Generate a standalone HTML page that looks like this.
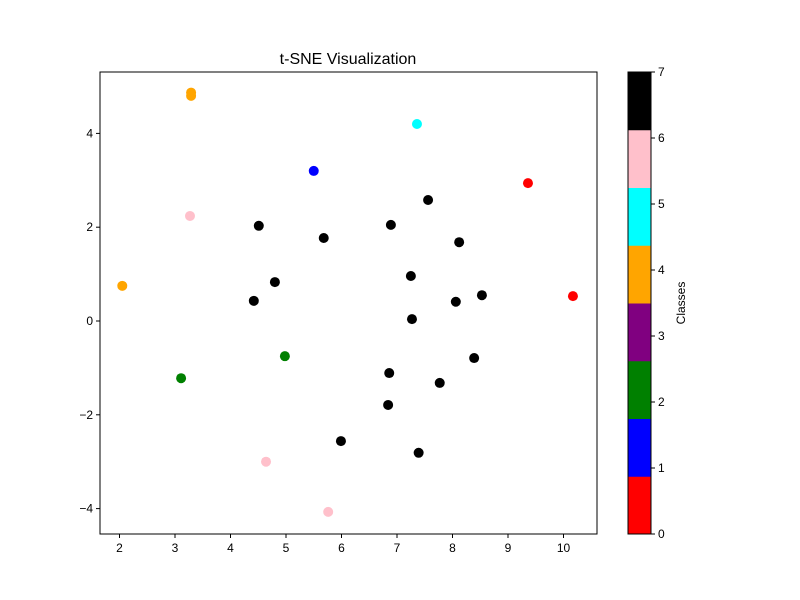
<!DOCTYPE html>
<html><head><meta charset="utf-8"><style>body{margin:0;background:#fff}svg{display:block;font-family:"Liberation Sans","DejaVu Sans",sans-serif}</style></head>
<body>
<svg id="chart" width="800" height="600"></svg>
<script>
const xs=[3.29,3.29,7.36,5.5,9.36,10.17,3.27,2.05,4.98,3.11,4.64,5.76,4.51,5.68,6.89,7.56,8.12,7.25,4.8,4.42,8.06,8.53,7.27,8.39,6.86,7.77,6.84,5.99,7.39];
const ys=[4.87,4.80,4.2,3.2,2.94,0.53,2.24,0.75,-0.75,-1.22,-3.0,-4.07,2.03,1.77,2.05,2.58,1.68,0.96,0.83,0.43,0.41,0.55,0.04,-0.79,-1.11,-1.32,-1.79,-2.56,-2.81];
const classes=[4,4,5,1,0,0,6,4,2,2,6,6,7,7,7,7,7,7,7,7,7,7,7,7,7,7,7,7,7];
const xTicks=[2,3,4,5,6,7,8,9,10];
const yTicks=[-4,-2,0,2,4];
const cbTicks=[0,1,2,3,4,5,6,7];
const palette=["#ff0000","#0000ff","#008000","#800080","#ffa500","#00ffff","#ffc0cb","#000000"];
const NS="http://www.w3.org/2000/svg",svg=document.getElementById('chart');
function mk(t,a,p){const e=document.createElementNS(NS,t);for(const k in a)e.setAttribute(k,a[k]);(p||svg).appendChild(e);return e;}
const X=v=>119.5+(v-2)*55.5, Y=v=>321-v*46.9;
const L=100,R=597,T=72,B=534;
let t=mk('text',{x:348,y:64,'text-anchor':'middle','font-size':16});t.textContent='t-SNE Visualization';


const pts=mk('g',{});


xs.forEach((x,i)=>{const c=mk('circle',{cx:X(x),cy:Y(ys[i]),r:5,fill:palette[classes[i]]},pts);

});
const fr=mk('rect',{x:L,y:T,width:R-L,height:B-T,fill:'none',stroke:'#000','stroke-width':1});


xTicks.forEach(v=>{mk('line',{x1:X(v),x2:X(v),y1:B,y2:B+4,stroke:'#000'});const e=mk('text',{x:X(v),y:B+18,'text-anchor':'middle','font-size':12});e.textContent=v;

});
yTicks.forEach(v=>{mk('line',{x1:L-4,x2:L,y1:Y(v),y2:Y(v),stroke:'#000'});const e=mk('text',{x:L-7,y:Y(v)+4,'text-anchor':'end','font-size':12});e.textContent=v<0?'\u2212'+(-v):v;

});
// colorbar
const cx=628,cw=23,segH=(B-T)/palette.length,tickH=(B-T)/7;
const cb=mk('g',{});


palette.forEach((c,i)=>{mk('rect',{x:cx,y:B-(i+1)*segH,width:cw,height:segH+0.5,fill:c},cb);});
mk('rect',{x:cx,y:T,width:cw,height:B-T,fill:'none',stroke:'#000'},cb);
cbTicks.forEach(v=>{const y=B-v*tickH;mk('line',{x1:cx+cw,x2:cx+cw+4,y1:y,y2:y,stroke:'#000'},cb);const e=mk('text',{x:cx+cw+7,y:y+4,'font-size':12},cb);e.textContent=v;

});
const cl=mk('text',{x:0,y:0,'font-size':12,'text-anchor':'middle',transform:'translate(685,303) rotate(-90)'});cl.textContent='Classes';


</script>
</body></html>
